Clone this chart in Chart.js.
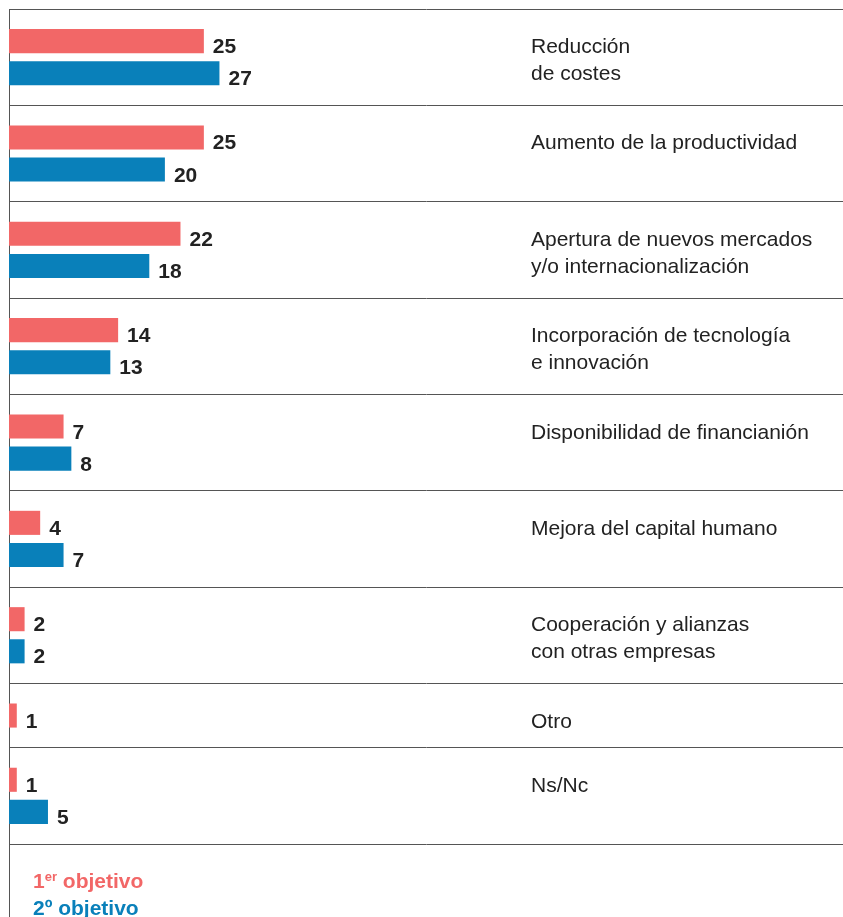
<!DOCTYPE html>
<html>
<head>
<meta charset="utf-8">
<script src="https://cdn.jsdelivr.net/npm/chart.js@4"></script>
<style>
  body { margin: 0; background: #fff; }
  #wrap { position: relative; width: 843px; height: 917px; }
  #legend {
    position: absolute; left: 33px; top: 867px;
    font: bold 21px "Liberation Sans", Arial, sans-serif; line-height: 27px;
  }
  #legend sup { font-size: 13px; vertical-align: 7px; line-height: 0; }
</style>
</head>
<body>
<div id="wrap">
  <canvas id="chart" width="843" height="917"></canvas>
  <div id="legend">
    <div style="color:#f26767">1<sup>er</sup> objetivo</div>
    <div style="color:#0980ba">2º objetivo</div>
  </div>
</div>
<script>
// Categories (right-hand labels) and values
const categories = [
  ['Reducción', 'de costes'],
  ['Aumento de la productividad'],
  ['Apertura de nuevos mercados', 'y/o internacionalización'],
  ['Incorporación de tecnología', 'e innovación'],
  ['Disponibilidad de financianión'],
  ['Mejora del capital humano'],
  ['Cooperación y alianzas', 'con otras empresas'],
  ['Otro'],
  ['Ns/Nc']
];
const firstGoal = [25, 25, 22, 14, 7, 4, 2, 1, 1];
const secondGoal = [27, 20, 18, 13, 8, 7, 2, null, 5];

const RED = '#f26767';
const BLUE = '#0980ba';
const LINE = '#555';
const TEXT = '#222';

// each row takes one slot per bar plus one spacer slot
const rowStart = [];
let slot = 0;
categories.forEach((c, i) => {
  rowStart.push(slot);
  slot += secondGoal[i] == null ? 2 : 3;
});
const totalSlots = slot;

const firstData = firstGoal.map((v, i) => ({ x: v, y: rowStart[i] + 1 }));
const secondData = [];
secondGoal.forEach((v, i) => {
  if (v != null) secondData.push({ x: v, y: rowStart[i] + 2 });
});

// value labels next to each bar + category labels on the right
const labelPlugin = {
  id: 'labels',
  afterDatasetsDraw(chart) {
    const ctx = chart.ctx;
    ctx.save();
    ctx.fillStyle = TEXT;
    ctx.textBaseline = 'alphabetic';
    ctx.font = 'bold 21px "Liberation Sans", Arial, sans-serif';
    chart.data.datasets.forEach((ds, di) => {
      chart.getDatasetMeta(di).data.forEach((el, j) => {
        ctx.fillText(ds.data[j].x, el.x + 9, el.y + 12);
      });
    });
    ctx.font = '21px "Liberation Sans", Arial, sans-serif';
    const yScale = chart.scales.y;
    categories.forEach((lines, i) => {
      const y0 = yScale.getPixelForValue(rowStart[i] + 1) + 12;
      lines.forEach((t, k) => ctx.fillText(t, 531, y0 + k * 27));
    });
    // axis line runs down past the last row
    const a = chart.chartArea;
    ctx.strokeStyle = LINE;
    ctx.lineWidth = 1;
    ctx.beginPath();
    ctx.moveTo(Math.round(a.left) + 0.5, a.bottom);
    ctx.lineTo(Math.round(a.left) + 0.5, chart.height);
    ctx.stroke();
    ctx.restore();
  }
};

new Chart(document.getElementById('chart'), {
  type: 'bar',
  data: {
    datasets: [
      { label: '1er objetivo', data: firstData, backgroundColor: RED },
      { label: '2º objetivo', data: secondData, backgroundColor: BLUE }
    ]
  },
  options: {
    responsive: false,
    animation: false,
    indexAxis: 'y',
    grouped: false,
    categoryPercentage: 1,
    barPercentage: 0.75,
    layout: { padding: { left: 9, top: 9, right: 0, bottom: 73 } },
    plugins: { legend: { display: false }, tooltip: { enabled: false } },
    scales: {
      x: { type: 'linear', min: 0, max: 107, display: false },
      y: {
        type: 'linear',
        reverse: true,
        offset: false,
        min: 0,
        max: totalSlots,
        afterBuildTicks: (scale) => {
          scale.ticks = rowStart.concat([totalSlots]).map(v => ({ value: v }));
        },
        ticks: { display: false },
        grid: { color: LINE, lineWidth: 1, drawTicks: false, offset: false },
        border: { color: LINE, width: 1 }
      }
    }
  },
  plugins: [labelPlugin]
});
</script>
</body>
</html>
